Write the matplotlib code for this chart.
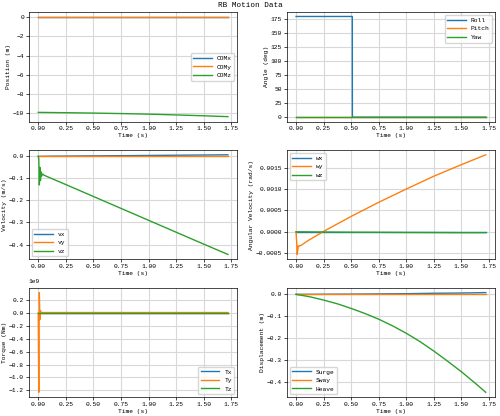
import numpy as np
import matplotlib.pyplot as plt

plt.rcParams['font.family'] = ['Liberation Mono', 'DejaVu Sans Mono']
plt.rcParams['font.size'] = 4.5

# time samples (s)
t = [0.0, 0.005, 0.01, 0.015, 0.02, 0.025, 0.03, 0.04, 0.05, 0.1, 0.25, 0.5, 0.75, 1.0, 1.25, 1.5, 1.72]
t_angle = [0.0, 0.51, 0.511, 0.52, 1.0, 1.72]
t_disp = [0.0, 0.125, 0.25, 0.375, 0.5, 0.625, 0.75, 0.875, 1.0, 1.125, 1.25, 1.375, 1.5, 1.625, 1.72]

com_x = [0.0] * 17
com_y = [0.0] * 17
com_z = [-9.90, -9.90, -9.90, -9.90, -9.90, -9.90, -9.90, -9.90, -9.90, -9.91, -9.93, -9.97, -10.02, -10.08, -10.16, -10.25, -10.34]

roll = [180.0, 180.0, 0.0, 0.0, 0.0, 0.0]
pitch = [0.0] * 6
yaw = [0.0] * 6

vx = [0.0, 0.0, 0.0, 0.0, 0.0, 0.0, 0.0, 0.0, 0.0, 0.0005, 0.001, 0.002, 0.003, 0.004, 0.005, 0.006, 0.007]
vy = [0.0] * 17
vz = [0.0, -0.01, -0.13, -0.05, -0.11, -0.07, -0.09, -0.08, -0.085, -0.096, -0.128, -0.182, -0.236, -0.290, -0.344, -0.398, -0.445]

wx = [0.0] * 17
wy = [0.0, -0.0002, -0.00053, -0.00045, -0.00033, -0.00034, -0.00033, -0.00032, -0.00031, -0.00022, 0.00001, 0.00036, 0.00069, 0.00100, 0.00130, 0.00157, 0.00180]
wz = [0.0, 0.0, 0.0, 0.0, 0.0, 0.0, 0.0, 0.0, 0.0, -0.000002, -0.000005, -0.00001, -0.000012, -0.000015, -0.000017, -0.00002, -0.00002]

tx = [0.0] * 17
ty = [0.0, -1.23e9, 0.32e9, -0.1e9, 0.04e9, 0.01e9, 0.01e9, 0.01e9, 0.01e9, 0.01e9, 0.01e9, 0.01e9, 0.01e9, 0.01e9, 0.01e9, 0.01e9, 0.01e9]
tz = [0.0] * 17

surge = [0.0, 0.0, 0.0005, 0.0008, 0.001, 0.0015, 0.002, 0.0025, 0.003, 0.004, 0.005, 0.0055, 0.006, 0.007, 0.008]
sway = [0.0] * 15
heave = [0.0, -0.011, -0.026, -0.043, -0.064, -0.087, -0.113, -0.143, -0.177, -0.215, -0.258, -0.304, -0.352, -0.404, -0.445]

panels = [
    (t, [com_x, com_y, com_z], ['COMx', 'COMy', 'COMz'], 'Position (m)', 'center right'),
    (t_angle, [roll, pitch, yaw], ['Roll', 'Pitch', 'Yaw'], 'Angle (deg)', 'upper right'),
    (t, [vx, vy, vz], ['vx', 'vy', 'vz'], 'Velocity (m/s)', 'lower left'),
    (t, [wx, wy, wz], ['wx', 'wy', 'wz'], 'Angular Velocity (rad/s)', 'upper left'),
    (t, [tx, ty, tz], ['Tx', 'Ty', 'Tz'], 'Torque (Nm)', 'lower right'),
    (t_disp, [surge, sway, heave], ['Surge', 'Sway', 'Heave'], 'Displacement (m)', 'lower left'),
]

fig, axes = plt.subplots(3, 2, figsize=(5, 4.16), dpi=100)
fig.suptitle('RB Motion Data', fontsize=5.5, y=0.995)
for ax, (tt, series, labels, ylabel, loc) in zip(axes.flat, panels):
    for s, lab in zip(series, labels):
        ax.plot(tt, s, label=lab, linewidth=1.0)
    ax.set_xlabel('Time (s)', labelpad=1)
    ax.set_ylabel(ylabel, labelpad=1)
    ax.set_xticks(np.arange(0, 1.76, 0.25))
    ax.grid(True, color='#d8d8d8', linewidth=0.8)
    ax.tick_params(length=2, pad=1.5, width=0.5)
    for sp in ax.spines.values():
        sp.set_linewidth(0.5)
    ax.legend(loc=loc, fontsize=4.5, handlelength=3)
    ax.yaxis.get_offset_text().set_fontsize(4.5)

axes[0, 1].set_ylim(-8, 188)
axes[0, 1].set_yticks(np.arange(0, 176, 25))
axes[1, 0].set_yticks([0.0, -0.1, -0.2, -0.3, -0.4])
axes[2, 0].set_yticks(np.arange(-1.2e9, 0.3e9, 0.2e9))

fig.tight_layout(pad=0.4, h_pad=0.6, w_pad=1.5)
fig.savefig('out.png', dpi=100)
